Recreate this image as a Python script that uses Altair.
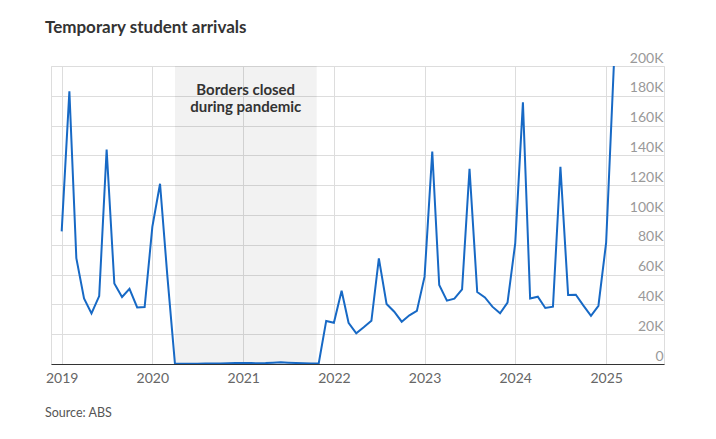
import altair as alt
import pandas as pd

# Monthly temporary student arrivals, Jan 2019 - Feb 2025
months = pd.date_range("2019-01-01", "2025-02-01", freq="MS").strftime("%Y-%m-%dT00:00:00").tolist()
arrivals = [
    # 2019
    89000, 183000, 71000, 44000, 34000, 45600, 144000, 54000, 45000, 50500, 38000, 38200,
    # 2020
    92000, 121000, 60000, 200, 150, 200, 250, 300, 350, 400, 500, 600,
    # 2021
    700, 600, 500, 600, 900, 1200, 900, 700, 500, 400, 500, 28900,
    # 2022
    27700, 49200, 27700, 20600, 24600, 29000, 70900, 40300, 35100, 28400, 32700, 35600,
    # 2023
    58600, 142500, 53000, 42500, 43800, 50100, 131000, 48300, 44700, 38500, 34000, 41200,
    # 2024
    81000, 175600, 44000, 45200, 37600, 38500, 132400, 46300, 46500, 39400, 32400, 39100,
    # 2025
    81400, 200000,
]

closed_start = ["2020-04-01T00:00:00"]
closed_end = ["2021-10-24T00:00:00"]
annotation_date = ["2021-01-11T00:00:00"]
annotation_text = ["Borders closed\nduring pandemic"]

title_text = "Temporary student arrivals"
source_text = "Source: ABS"

FONT = "Lato"
W, H = 613, 298

df = pd.DataFrame({"month": months, "arrivals": arrivals})
shade_df = pd.DataFrame({"start": closed_start, "end": closed_end})
ann_df = pd.DataFrame({"date": annotation_date, "label": annotation_text})

x_scale = alt.Scale(domain=["2018-11-19T00:00:00", "2025-08-22T00:00:00"])
y_scale = alt.Scale(domain=[0, 200000], nice=False)

x_axis = alt.Axis(
    title=None,
    format="%Y",
    tickCount=alt.TimeIntervalStep(interval="year", step=1),
    grid=True,
    gridColor="#dddddd",
    ticks=False,
    domain=True,
    domainColor="#333333",
    domainWidth=1.2,
    labelColor="#666666",
    labelFont=FONT,
    labelFontSize=14,
    labelPadding=7,
    labelFlush=False,
)

y_axis = alt.Axis(
    title=None,
    orient="right",
    values=list(range(0, 200001, 20000)),
    labelExpr="datum.value == 0 ? '0' : (datum.value / 1000) + 'K'",
    grid=True,
    gridColor="#dddddd",
    ticks=False,
    domain=False,
    labelAlign="right",
    labelBaseline="bottom",
    labelPadding=-1,
    labelOffset=-1,
    labelColor="#999999",
    labelFont=FONT,
    labelFontSize=14,
)

shade = alt.Chart(shade_df).mark_rect(color="#000000", opacity=0.05).encode(
    x=alt.X("start:T", scale=x_scale, axis=x_axis),
    x2="end:T",
    y=alt.value(0),
    y2=alt.value(H),
)

line = alt.Chart(df).mark_line(color="#1769c5", strokeWidth=2, clip=True).encode(
    x=alt.X("month:T", scale=x_scale, axis=x_axis),
    y=alt.Y("arrivals:Q", scale=y_scale, axis=y_axis),
)

ann = alt.Chart(ann_df).mark_text(
    font=FONT, fontSize=15, fontWeight="bold", color="#333333",
    align="center", baseline="middle", lineBreak="\n", lineHeight=17,
).encode(
    x=alt.X("date:T", scale=x_scale),
    y=alt.value(24),
    text="label:N",
)

title = alt.Chart(pd.DataFrame({"t": [title_text]})).mark_text(
    font=FONT, fontSize=17, fontWeight="bold", color="#333333",
    align="left", baseline="middle",
).encode(x=alt.value(-6), y=alt.value(-38), text="t:N")

source = alt.Chart(pd.DataFrame({"t": [source_text]})).mark_text(
    font=FONT, fontSize=12.5, color="#555555",
    align="left", baseline="middle",
).encode(x=alt.value(-6), y=alt.value(347), text="t:N")

chart = alt.layer(shade, line, ann, title, source).properties(
    width=W,
    height=H,
    autosize="none",
    padding={"left": 43, "top": 58, "right": 44, "bottom": 67},
).configure_view(stroke=None).configure(background="white")

chart.save("out.html", embed_options={"renderer": "svg", "actions": False})
